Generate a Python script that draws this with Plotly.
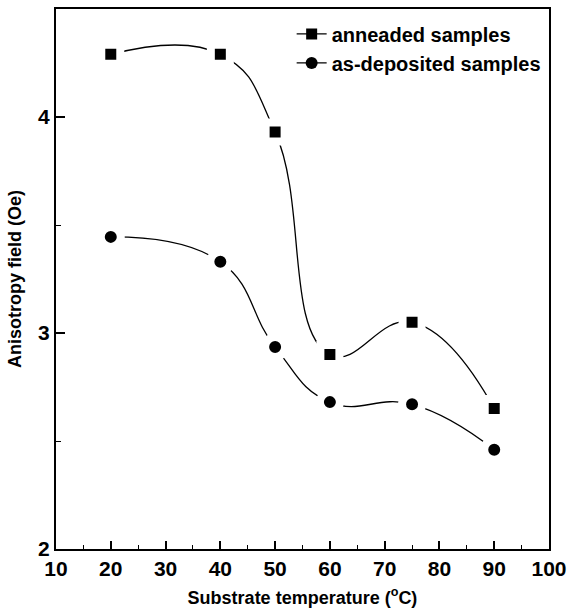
import plotly.graph_objects as go

# Substrate temperature (°C)
temperature = [20, 40, 50, 60, 75, 90]
# Anisotropy field (Oe)
annealed = [4.29, 4.29, 3.93, 2.90, 3.05, 2.65]
as_deposited = [3.445, 3.33, 2.935, 2.68, 2.67, 2.46]

x_ticks = [10, 20, 30, 40, 50, 60, 70, 80, 90, 100]
y_ticks = [2, 3, 4]

FONT = "Liberation Sans, Arial, sans-serif"

fig = go.Figure()


def add_series(yvals, name, symbol, size):
    # smoothed line with solid symbols (this one carries the legend entry)
    fig.add_trace(go.Scatter(
        x=temperature, y=yvals, name=name,
        mode="lines+markers",
        line=dict(color="black", width=1.3, shape="spline", smoothing=1.3),
        marker=dict(symbol=symbol, size=size, color="black"),
    ))
    # same symbols with a white halo so the curve stops short of each point
    fig.add_trace(go.Scatter(
        x=temperature, y=yvals, mode="markers", showlegend=False,
        hoverinfo="skip",
        marker=dict(symbol=symbol, size=size + 8, color="black",
                    line=dict(color="white", width=8)),
    ))


add_series(annealed, "anneaded samples", "square", 11)
add_series(as_deposited, "as-deposited samples", "circle", 12)

axis_common = dict(
    showline=True, linecolor="black", linewidth=2, mirror=True,
    ticks="inside", tickcolor="black", tickwidth=1.5,
    showgrid=False, zeroline=False,
    tickfont=dict(family=FONT, size=21, color="black", weight="bold"),
)

fig.update_xaxes(
    range=[10, 100], tickvals=x_ticks, ticklen=8,
    minor=dict(dtick=5, ticklen=4, ticks="inside", tickcolor="black", tickwidth=1),
    title=dict(text="Substrate temperature (<sup>o</sup>C)",
               font=dict(family=FONT, size=18, color="black", weight="bold"),
               standoff=12),
    **axis_common,
)
fig.update_yaxes(
    range=[2, 4.5], tickvals=y_ticks, ticklen=9,
    minor=dict(dtick=0.5, ticklen=5, ticks="inside", tickcolor="black", tickwidth=1),
    title=dict(text="Anisotropy field (Oe)",
               font=dict(family=FONT, size=18, color="black", weight="bold"),
               standoff=12),
    **axis_common,
)

fig.update_layout(
    width=574, height=612,
    margin=dict(l=56, r=19, t=7, b=63),
    plot_bgcolor="white", paper_bgcolor="white",
    showlegend=True,
    legend=dict(
        x=0.478, y=0.99, xanchor="left", yanchor="top",
        bgcolor="rgba(0,0,0,0)", borderwidth=0,
        font=dict(family=FONT, size=20, color="black", weight="bold"),
        itemwidth=30, tracegroupgap=0,
    ),
)

fig.write_html("out.html")
